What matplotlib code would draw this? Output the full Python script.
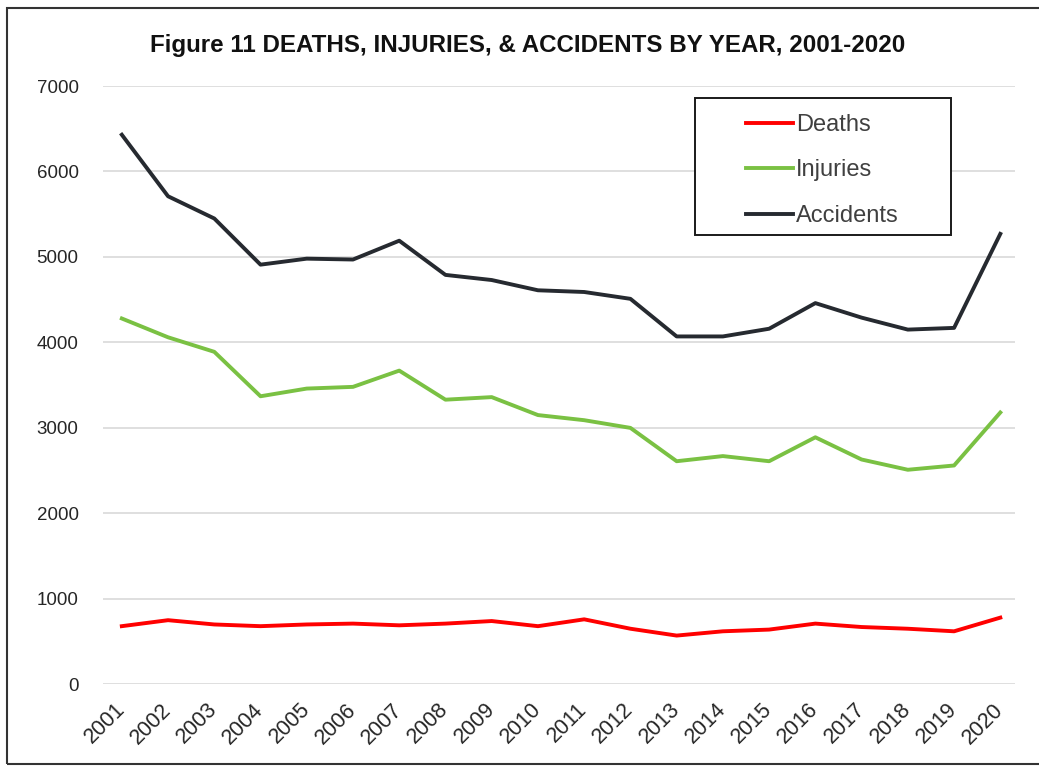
#!/usr/bin/env python3
"""Figure 11: deaths, injuries and accidents by year, 2001-2020."""

import matplotlib

matplotlib.use("Agg")

import matplotlib.pyplot as plt
from matplotlib.patches import Rectangle

years = [str(y) for y in range(2001, 2021)]
deaths = [680, 750, 700, 680, 700, 710, 690, 710, 740, 680,
          760, 650, 570, 620, 640, 710, 670, 650, 620, 780]
injuries = [4280, 4060, 3890, 3370, 3460, 3480, 3670, 3330, 3360, 3150,
            3090, 3000, 2610, 2670, 2610, 2890, 2630, 2510, 2560, 3180]
accidents = [6430, 5710, 5450, 4910, 4980, 4970, 5190, 4790, 4730, 4610,
             4590, 4510, 4070, 4070, 4160, 4460, 4290, 4150, 4170, 5270]

series = [
    ("Deaths", deaths, "#FF0000"),
    ("Injuries", injuries, "#7AC143"),
    ("Accidents", accidents, "#262A30"),
]

plt.rcParams["font.family"] = ["Liberation Sans", "DejaVu Sans"]

fig = plt.figure(figsize=(10.39, 7.68), dpi=100)
ax = fig.add_axes([0.099, 0.109, 0.878, 0.779])

x = list(range(len(years)))
for name, vals, color in series:
    ax.plot(x, vals, color=color, linewidth=2.8, label=name,
            solid_joinstyle="round", zorder=3)

ax.set_ylim(0, 7000)
ax.set_yticks(range(0, 7001, 1000))
ax.set_xlim(-0.41, 19.32)
ax.set_xticks(x)
ax.set_xticklabels(years, rotation=45, ha="right", va="center",
                   rotation_mode="anchor", fontsize=15.5)
ax.tick_params(axis="both", length=0, colors="#262626")
ax.tick_params(axis="y", labelsize=13.5, pad=17.5)
ax.tick_params(axis="x", pad=16)
ax.grid(axis="y", color="#D9D9D9", linewidth=1.2)
ax.set_axisbelow(True)
for spine in ax.spines.values():
    spine.set_visible(False)

# legend box drawn separately so its padding matches the original
lx0, ly0 = (695 - 103) / 912, (684 - 235) / 598
lx1, ly1 = (951 - 103) / 912, (684 - 98) / 598
ax.add_patch(Rectangle((lx0, ly0), lx1 - lx0, ly1 - ly0, transform=ax.transAxes,
                       facecolor="white", edgecolor="#1A1A1A", linewidth=1.4,
                       zorder=4))
leg = ax.legend(loc="upper left", bbox_to_anchor=((734 - 103) / 912, (684 - 102) / 598),
                frameon=False, fontsize=17, handlelength=2.0, handletextpad=0.12,
                labelspacing=1.0, borderpad=0.0)
leg.set_zorder(5)
for t in leg.get_texts():
    t.set_color("#404040")

fig.text(0.508, 0.941, "Figure 11 DEATHS, INJURIES, & ACCIDENTS BY YEAR, 2001-2020",
         ha="center", va="center", fontsize=17.4, fontweight="bold", color="#111111")

# outer frame around the whole chart (right edge runs off the image)
fig.patches.append(Rectangle((7 / 1039, 4 / 768), 1.05, 756 / 768,
                             transform=fig.transFigure, fill=False,
                             edgecolor="#333333", linewidth=1.5))

fig.savefig("out.png", dpi=100)
plt.close(fig)
